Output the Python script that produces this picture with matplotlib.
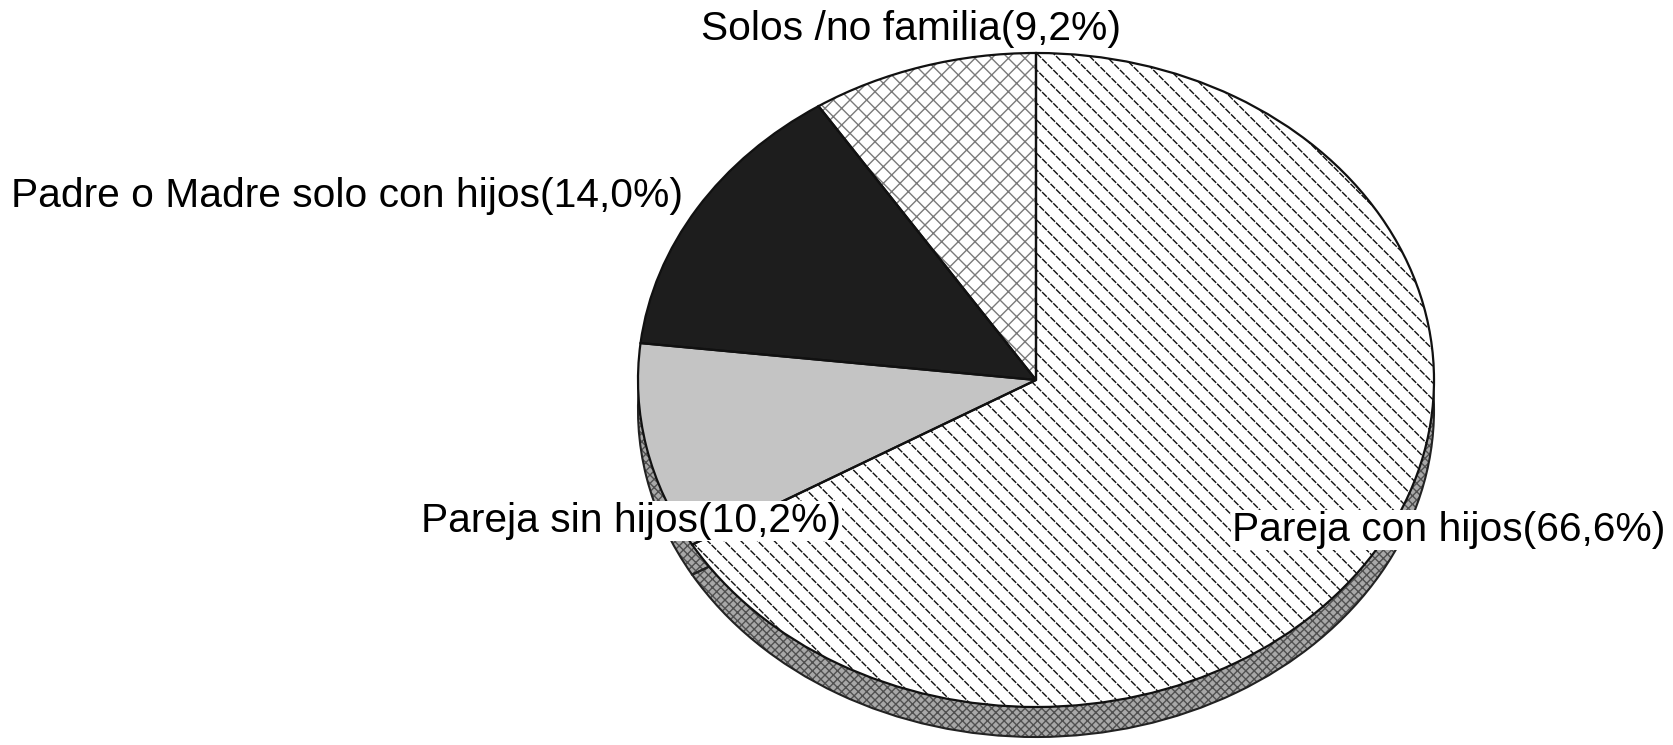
import matplotlib.pyplot as plt

# datos del grafico (tipos de hogar)
labels = ['Pareja con hijos', 'Pareja sin hijos', 'Padre o Madre solo con hijos', 'Solos /no familia']
values = [66.6, 10.2, 14.0, 9.2]
pct_text = ['66,6%', '10,2%', '14,0%', '9,2%']

faces = ['white', '#c4c4c4', '#1d1d1d', 'white']
hatches = ['\\\\', '', '', 'xx']
hatch_cols = ['#111111', '#c4c4c4', '#1d1d1d', '#7a7a7a']

W, H = 1673, 745
plt.rcParams['font.family'] = ['Liberation Sans', 'DejaVu Sans']
plt.rcParams['hatch.linewidth'] = 1.0

fig = plt.figure(figsize=(W / 100, H / 100), dpi=100)

# elipse: centro, radios y grosor del disco en pixeles
cx, cy, rx, ry, dp = 1036, 380, 398, 327, 30
depth = dp / ry
ax = fig.add_axes([(cx - rx) / W, (H - (cy + ry + dp)) / H, 2 * rx / W, (2 * ry + dp) / H])

kw = dict(startangle=90, counterclock=False)

# lado del disco
side, _ = ax.pie(values, center=(0, -depth), colors=['#a8a8a8'] * 4,
                 wedgeprops=dict(linewidth=0), **kw)
for w in side:
    w.set_hatch('xxxx')
    w.set_edgecolor('#505050')
ax.pie(values, center=(0, -depth), colors=['none'] * 4,
       wedgeprops=dict(edgecolor='#222222', linewidth=1.5), **kw)

# cara superior
wedges, _ = ax.pie(values, colors=faces, wedgeprops=dict(linewidth=0), **kw)
for w, h, hc in zip(wedges, hatches, hatch_cols):
    w.set_hatch(h)
    w.set_edgecolor(hc)

# lineas blancas cruzadas para que las diagonales queden punteadas
cut, _ = ax.pie(values, colors=['none'] * 4, wedgeprops=dict(linewidth=0), **kw)
cut[0].set_hatch('///')
cut[0].set_edgecolor('white')
for w in cut[1:]:
    w.set_visible(False)

# contornos
ax.pie(values, colors=['none'] * 4, wedgeprops=dict(edgecolor='#111111', linewidth=1.6), **kw)

ax.set_aspect('auto')
ax.set_xlim(-1, 1)
ax.set_ylim(-1 - depth, 1)
ax.axis('off')

# etiquetas (posicion en pixeles)
pos = [(1232, 530), (421, 521), (11, 196), (701, 29)]
for lab, pt, (x, y) in zip(labels, pct_text, pos):
    fig.text(x / W, 1 - y / H, '%s(%s)' % (lab, pt), ha='left', va='center', fontsize=29.3,
             color='black', bbox=dict(facecolor='white', edgecolor='none', pad=1))

fig.savefig('out.png', dpi=100, facecolor='white')
